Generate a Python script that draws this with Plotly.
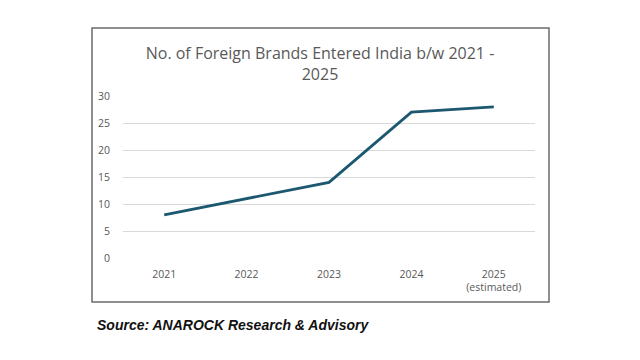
import plotly.graph_objects as go

years = ["2021", "2022", "2023", "2024", "2025"]
year_labels = ["2021", "2022", "2023", "2024", "2025<br>(estimated)"]
brands = [8, 11, 14, 27, 28]
y_ticks = [0, 5, 10, 15, 20, 25, 30]

OFF = 8  # page body margin offset
W, H = 640, 360
L, T = 123 - OFF, 96 - OFF
R, B = 105 + OFF, 102 + OFF
pw, ph = W - L - R, H - T - B

def px_x(x):
    return (x - OFF - L) / pw

def px_y(y):
    return (H - B - (y - OFF)) / ph

fig = go.Figure()
fig.add_trace(go.Scatter(
    x=years, y=brands, mode="lines",
    line=dict(color="#1c5870", width=2.8),
    hoverinfo="skip", showlegend=False,
))

fig.update_layout(
    width=W, height=H,
    margin=dict(l=L, r=R, t=T, b=B),
    paper_bgcolor="white", plot_bgcolor="white",
    font=dict(family="Open Sans, sans-serif", color="#595959"),
    title=dict(
        text="No. of Foreign Brands Entered India b/w 2021 -<br>2025",
        x=(320 - OFF) / W, xref="container", y=1 - (59 - OFF) / H, yref="container",
        xanchor="center", yanchor="middle",
        font=dict(size=16, color="#595959"),
    ),
    xaxis=dict(
        type="category", tickmode="array", tickvals=years, ticktext=year_labels,
        range=[-0.5, 4.5], showgrid=False, showline=False, zeroline=False,
        ticks="", tickfont=dict(size=10.5, color="#595959"),
        ticklabelstandoff=8,
    ),
    yaxis=dict(
        range=[0, 30], tickmode="array", tickvals=y_ticks,
        showgrid=True, gridcolor="#d9d9d9", gridwidth=1,
        zeroline=False, showline=False, ticks="",
        tickfont=dict(size=10.5, color="#595959"),
        ticklabelstandoff=12,
    ),
    shapes=[dict(
        type="rect", xref="paper", yref="paper",
        x0=px_x(92), x1=px_x(549), y0=px_y(302), y1=px_y(28),
        line=dict(color="#6b6b6b", width=1.5), fillcolor="rgba(0,0,0,0)",
        layer="below",
    )],
    annotations=[dict(
        text="<b><i>Source: ANAROCK Research &amp; Advisory</i></b>",
        xref="paper", yref="paper", x=px_x(95), y=px_y(325),
        xanchor="left", yanchor="middle", showarrow=False,
        font=dict(family="Liberation Sans, Arial, sans-serif", size=14, color="#111111"),
    )],
)

fig.write_html("out.html")
